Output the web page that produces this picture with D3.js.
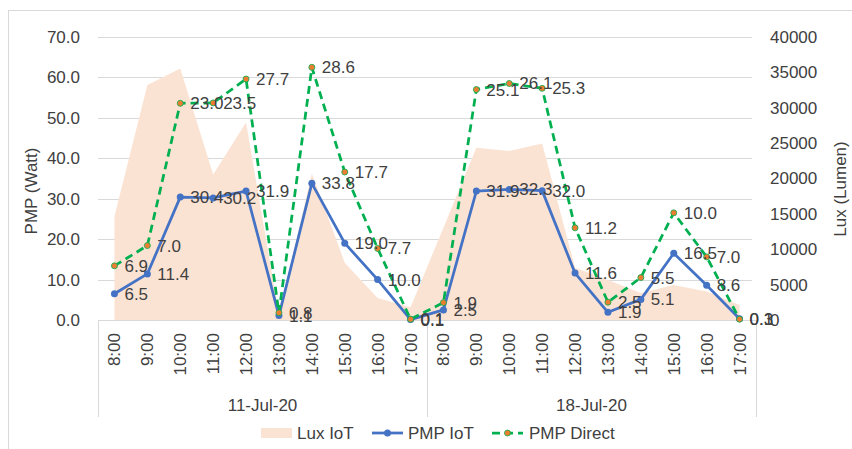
<!DOCTYPE html>
<html>
<head>
<meta charset="utf-8">
<script src="https://cdn.jsdelivr.net/npm/d3@7"></script>
<style>
  body { margin: 0; background: #fff; }
  text { font-family: "Liberation Sans", Arial, sans-serif; fill: #404040; }
</style>
</head>
<body>
<svg id="chart" width="852" height="449"></svg>
<script>
// data
var days = ["11-Jul-20", "18-Jul-20"]
var hours = ["8:00", "9:00", "10:00", "11:00", "12:00", "13:00", "14:00", "15:00", "16:00", "17:00"]
var luxIoT = [14650, 33230, 35560, 20570, 27900, 800, 20700, 8090, 3120, 1800,
              13050, 24350, 23870, 24960, 7380, 5670, 3830, 4960, 4020, 2130]
var pmpIoT = [6.5, 11.4, 30.4, 30.2, 31.9, 1.1, 33.8, 19.0, 10.0, 0.1,
              2.5, 31.9, 32.3, 32.0, 11.6, 1.9, 5.1, 16.5, 8.6, 0.3]
// dashed line sits higher than its own labels in the source chart
var pmpDirect = [13.4, 18.4, 53.6, 53.7, 59.6, 1.8, 62.5, 36.6, 17.7, 0.2,
                 4.3, 57.0, 58.5, 57.3, 22.8, 4.4, 10.5, 26.5, 15.6, 0.2]
var pmpDirectLabels = [6.9, 7.0, 23.0, 23.5, 27.7, 0.8, 28.6, 17.7, 7.7, 0.1,
                       1.9, 25.1, 26.1, 25.3, 11.2, 2.5, 5.5, 10.0, 7.0, 0.1]
var leftTicks = [0, 10, 20, 30, 40, 50, 60, 70]
var rightTicks = [0, 5000, 10000, 15000, 20000, 25000, 30000, 35000, 40000]

var svg = d3.select("#chart")
var plotL = 98, plotR = 756, plotT = 37, plotB = 320

// categories = day x hour
var cats = []
days.forEach(function(d, di) {
  hours.forEach(function(h) { cats.push({day: d, hour: h, di: di}) })
})

var x = d3.scaleBand().domain(d3.range(cats.length)).range([plotL, plotR]).padding(0)
var cx = function(i) { return x(i) + x.bandwidth() / 2 }
var y = d3.scaleLinear().domain([0, 70]).range([plotB, plotT])
var yR = d3.scaleLinear().domain([0, 40000]).range([plotB, plotT])

// outer chart border
svg.append("rect")
  .attr("x", 8.5).attr("y", 10.5)
  .attr("width", 860).attr("height", 460)
  .attr("fill", "none").attr("stroke", "#d9d9d9")

// gridlines
svg.selectAll(".grid")
  .data(leftTicks.slice(1))
  .enter().append("line")
  .attr("x1", plotL).attr("x2", 752)
  .attr("y1", function(d) { return Math.round(y(d)) + 0.5 })
  .attr("y2", function(d) { return Math.round(y(d)) + 0.5 })
  .attr("stroke", "#d9d9d9").attr("stroke-width", 1)

// lux area
var area = d3.area()
  .x(function(d, i) { return cx(i) })
  .y0(plotB)
  .y1(function(d) { return yR(d) })
svg.append("path")
  .datum(luxIoT)
  .attr("d", area)
  .attr("fill", "#fbe3d4")

// category axis lines
svg.append("line")
  .attr("x1", plotL).attr("x2", plotR)
  .attr("y1", plotB + 0.5).attr("y2", plotB + 0.5)
  .attr("stroke", "#d9d9d9")
svg.selectAll(".sep")
  .data([plotL, x(10), plotR])
  .enter().append("line")
  .attr("x1", function(d) { return Math.round(d) + 0.5 })
  .attr("x2", function(d) { return Math.round(d) + 0.5 })
  .attr("y1", plotB).attr("y2", 417)
  .attr("stroke", "#d9d9d9")

// left axis labels
svg.selectAll(".ly")
  .data(leftTicks)
  .enter().append("text")
  .attr("x", 80)
  .attr("y", function(d) { return y(d) })
  .attr("dy", "0.35em")
  .attr("text-anchor", "end")
  .style("font-size", "17px")
  .text(d3.format(".1f"))

// right axis labels
svg.selectAll(".ry")
  .data(rightTicks)
  .enter().append("text")
  .attr("x", 770)
  .attr("y", function(d) { return yR(d) })
  .attr("dy", "0.35em")
  .style("font-size", "17px")
  .text(function(d) { return d })

// hour labels, rotated
svg.selectAll(".hr")
  .data(cats)
  .enter().append("text")
  .attr("transform", function(d, i) { return "translate(" + cx(i) + ",333) rotate(-90)" })
  .attr("dy", "0.35em")
  .attr("text-anchor", "end")
  .style("font-size", "17px")
  .text(function(d) { return d.hour })

// day labels
svg.selectAll(".day")
  .data(days)
  .enter().append("text")
  .attr("x", function(d, i) { return (x(i * 10) + (i == 0 ? x(10) : plotR)) / 2 })
  .attr("y", 405)
  .attr("dy", "0.35em")
  .attr("text-anchor", "middle")
  .style("font-size", "17px")
  .text(function(d) { return d })

// axis titles
svg.append("text")
  .attr("transform", "translate(31,191) rotate(-90)")
  .attr("dy", "0.35em")
  .attr("text-anchor", "middle")
  .style("font-size", "17px")
  .text("PMP (Watt)")
svg.append("text")
  .attr("transform", "translate(840,189) rotate(-90)")
  .attr("dy", "0.35em")
  .attr("text-anchor", "middle")
  .style("font-size", "17px")
  .text("Lux (Lumen)")

// PMP IoT line
var line = d3.line()
  .x(function(d, i) { return cx(i) })
  .y(function(d) { return y(d) })
svg.append("path")
  .datum(pmpIoT)
  .attr("d", line)
  .attr("fill", "none")
  .attr("stroke", "#4472c4")
  .attr("stroke-width", 2.75)
  .attr("stroke-linejoin", "round")
svg.selectAll(".pIoT")
  .data(pmpIoT)
  .enter().append("circle")
  .attr("cx", function(d, i) { return cx(i) })
  .attr("cy", function(d) { return y(d) })
  .attr("r", 3.5)
  .attr("fill", "#4472c4")

// PMP Direct dashed line
svg.append("path")
  .datum(pmpDirect)
  .attr("d", line)
  .attr("fill", "none")
  .attr("stroke", "#00b050")
  .attr("stroke-width", 2.75)
  .attr("stroke-dasharray", "8,5")
svg.selectAll(".pDir")
  .data(pmpDirect)
  .enter().append("circle")
  .attr("cx", function(d, i) { return cx(i) })
  .attr("cy", function(d) { return y(d) })
  .attr("r", 3)
  .attr("fill", "#ed7d31")
  .attr("stroke", "#00b050")
  .attr("stroke-width", 0.8)

// data labels
svg.selectAll(".lIoT")
  .data(pmpIoT)
  .enter().append("text")
  .attr("x", function(d, i) { return cx(i) + 10 })
  .attr("y", function(d) { return y(d) })
  .attr("dy", "0.35em")
  .style("font-size", "17px")
  .text(d3.format(".1f"))
svg.selectAll(".lDir")
  .data(pmpDirect)
  .enter().append("text")
  .attr("x", function(d, i) { return cx(i) + 10 })
  .attr("y", function(d) { return y(d) })
  .attr("dy", "0.35em")
  .style("font-size", "17px")
  .text(function(d, i) { return d3.format(".1f")(pmpDirectLabels[i]) })

// legend
var lg = svg.append("g").attr("transform", "translate(0,433)")
lg.append("rect").attr("x", 261).attr("y", -5).attr("width", 31).attr("height", 10).attr("fill", "#fbe3d4")
lg.append("text").attr("x", 297).attr("dy", "0.35em").style("font-size", "17px").text("Lux IoT")
lg.append("line").attr("x1", 372).attr("x2", 403).attr("stroke", "#4472c4").attr("stroke-width", 2.75)
lg.append("circle").attr("cx", 387.5).attr("r", 3.5).attr("fill", "#4472c4")
lg.append("text").attr("x", 408).attr("dy", "0.35em").style("font-size", "17px").text("PMP IoT")
lg.append("line").attr("x1", 492).attr("x2", 523).attr("stroke", "#00b050").attr("stroke-width", 2.75).attr("stroke-dasharray", "8,5")
lg.append("circle").attr("cx", 507.5).attr("r", 3).attr("fill", "#ed7d31").attr("stroke", "#00b050").attr("stroke-width", 0.8)
lg.append("text").attr("x", 529).attr("dy", "0.35em").style("font-size", "17px").text("PMP Direct")
</script>
</body>
</html>
